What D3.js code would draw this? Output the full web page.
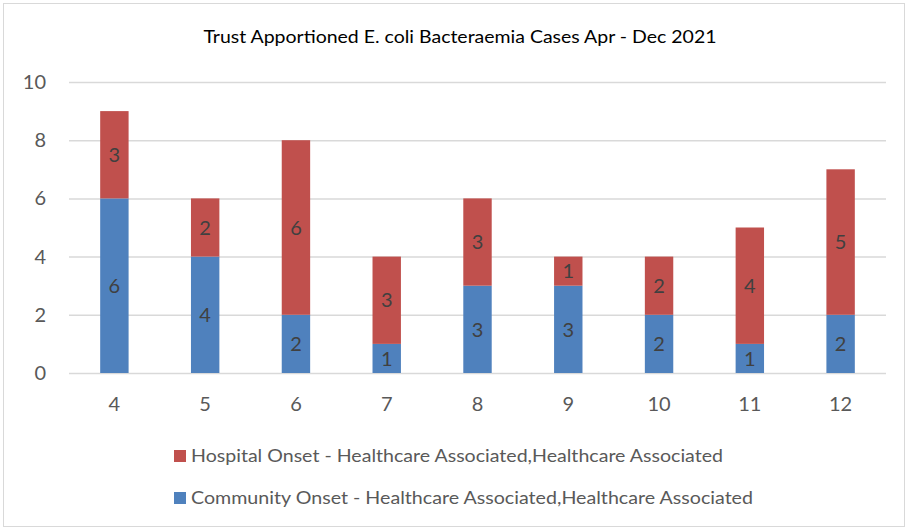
<!DOCTYPE html>
<html>
<head>
<meta charset="utf-8">
<script src="https://cdn.jsdelivr.net/npm/d3@7"></script>
<style>
  html, body { margin: 0; padding: 0; background: #fff; }
  svg { display: block; font-family: Lato, "Open Sans", sans-serif; }
</style>
</head>
<body>
<svg id="chart" width="908" height="530"></svg>
<script>
// Monthly E. coli bacteraemia cases (Apr - Dec 2021)
const months = ["4", "5", "6", "7", "8", "9", "10", "11", "12"];
const communityOnset = [6, 4, 2, 1, 3, 3, 2, 1, 2];
const hospitalOnset = [3, 2, 6, 3, 3, 1, 2, 4, 5];
const yTicks = [0, 2, 4, 6, 8, 10];
const seriesNames = [
  "Community Onset - Healthcare Associated,Healthcare Associated",
  "Hospital Onset - Healthcare Associated,Healthcare Associated"
];
const seriesColors = ["#4f81bd", "#c0504d"];
const title = "Trust Apportioned E. coli Bacteraemia Cases Apr - Dec 2021";

const svg = d3.select("#chart");
const W = 908, H = 530;
const plot = { left: 69, right: 886, top: 82, bottom: 373 };

// outer frame
svg.append("rect")
  .attr("x", 3.5).attr("y", 3.5)
  .attr("width", W - 7).attr("height", H - 7)
  .attr("fill", "#fff").attr("stroke", "#d9d9d9").attr("stroke-width", 1);

// title
svg.append("text")
  .attr("x", 460).attr("y", 43)
  .attr("text-anchor", "middle")
  .attr("font-size", 17.5)
  .attr("fill", "#000")
  .attr("textLength", 513).attr("lengthAdjust", "spacingAndGlyphs")
  .text(title);

const x = d3.scaleBand()
  .domain(months)
  .range([plot.left, plot.right])
  .paddingInner(0.687)
  .paddingOuter(0.3435);

const y = d3.scaleLinear()
  .domain([0, 10])
  .range([plot.bottom, plot.top]);

// gridlines + y labels
const yAxis = svg.append("g")
  .attr("transform", `translate(${plot.left},0)`)
  .call(d3.axisLeft(y).tickValues(yTicks).tickSize(-(plot.right - plot.left)).tickPadding(23));
yAxis.select(".domain").remove();
yAxis.selectAll(".tick line").attr("stroke", "#d9d9d9").attr("stroke-width", 1.5);
yAxis.selectAll(".tick text")
  .attr("font-family", "Lato, 'Open Sans', sans-serif")
  .attr("font-size", 20).attr("fill", "#595959");

// x labels
const xAxis = svg.append("g")
  .attr("transform", `translate(0,${plot.bottom})`)
  .call(d3.axisBottom(x).tickSize(0).tickPadding(24));
xAxis.select(".domain").remove();
xAxis.selectAll(".tick text")
  .attr("font-family", "Lato, 'Open Sans', sans-serif")
  .attr("font-size", 20).attr("fill", "#595959");

// stacked bars
const rows = months.map((m, i) => ({ month: m, community: communityOnset[i], hospital: hospitalOnset[i] }));
const stack = d3.stack().keys(["community", "hospital"])(rows);

const layers = svg.append("g").selectAll("g")
  .data(stack)
  .join("g")
  .attr("fill", (d, i) => seriesColors[i]);

layers.selectAll("rect")
  .data(d => d)
  .join("rect")
  .attr("x", d => x(d.data.month))
  .attr("width", x.bandwidth())
  .attr("y", d => y(d[1]))
  .attr("height", d => y(d[0]) - y(d[1]));

// value labels centred in each segment
const labels = svg.append("g").selectAll("g")
  .data(stack)
  .join("g");
labels.selectAll("text")
  .data(d => d.map(s => ({ s, v: s[1] - s[0] })))
  .join("text")
  .attr("x", d => x(d.s.data.month) + x.bandwidth() / 2)
  .attr("y", d => y((d.s[0] + d.s[1]) / 2))
  .attr("dy", "0.36em")
  .attr("text-anchor", "middle")
  .attr("font-size", 20)
  .attr("fill", "#404040")
  .text(d => d.v);

// legend (hospital first, community second)
const legendItems = [
  { name: seriesNames[1], color: seriesColors[1], y: 462, len: 532 },
  { name: seriesNames[0], color: seriesColors[0], y: 504, len: 562 }
];
const lg = svg.append("g").selectAll("g")
  .data(legendItems)
  .join("g");
lg.append("rect")
  .attr("x", 174).attr("y", d => d.y - 12)
  .attr("width", 12).attr("height", 12)
  .attr("fill", d => d.color);
lg.append("text")
  .attr("x", 191).attr("y", d => d.y)
  .attr("font-size", 18)
  .attr("fill", "#595959")
  .attr("textLength", d => d.len).attr("lengthAdjust", "spacingAndGlyphs")
  .text(d => d.name);
</script>
</body>
</html>
